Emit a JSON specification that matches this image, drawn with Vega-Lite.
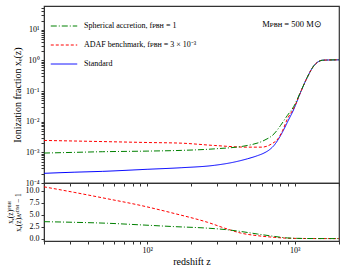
{
  "$schema": "https://vega.github.io/schema/vega-lite/v6.json",
  "padding": {"left": 5, "top": 5, "right": 6, "bottom": 2},
  "spacing": 0,
  "bounds": "flush",
  "config": {
    "font": "Liberation Serif",
    "view": {"stroke": "#333", "strokeWidth": 1.2},
    "axis": {"labelFont": "Liberation Serif", "titleFont": "Liberation Serif", "labelColor": "black", "titleColor": "black", "tickColor": "#333", "domainColor": "#333", "grid": false, "labelFontSize": 8, "titleFontSize": 10, "titleFontWeight": "normal", "tickSize": 3, "labelPadding": 2},
    "legend": {"labelFont": "Liberation Serif", "labelFontSize": 8, "labelColor": "black"}
  },
  "datasets": {
    "xe": [
      {"z": 20, "xe": 0.000207, "model": "Standard"},
      {"z": 32, "xe": 0.000225, "model": "Standard"},
      {"z": 50, "xe": 0.00024, "model": "Standard"},
      {"z": 100, "xe": 0.00028, "model": "Standard"},
      {"z": 170, "xe": 0.000315, "model": "Standard"},
      {"z": 285, "xe": 0.000377, "model": "Standard"},
      {"z": 380, "xe": 0.00047, "model": "Standard"},
      {"z": 479, "xe": 0.000617, "model": "Standard"},
      {"z": 560, "xe": 0.00078, "model": "Standard"},
      {"z": 620, "xe": 0.00095, "model": "Standard"},
      {"z": 680, "xe": 0.00125, "model": "Standard"},
      {"z": 725, "xe": 0.00168, "model": "Standard"},
      {"z": 765, "xe": 0.0024, "model": "Standard"},
      {"z": 804, "xe": 0.00356, "model": "Standard"},
      {"z": 850, "xe": 0.0059, "model": "Standard"},
      {"z": 893, "xe": 0.0096, "model": "Standard"},
      {"z": 989, "xe": 0.026, "model": "Standard"},
      {"z": 1098, "xe": 0.091, "model": "Standard"},
      {"z": 1218, "xe": 0.28, "model": "Standard"},
      {"z": 1350, "xe": 0.67, "model": "Standard"},
      {"z": 1459, "xe": 0.93, "model": "Standard"},
      {"z": 1550, "xe": 1.02, "model": "Standard"},
      {"z": 2000, "xe": 1.05, "model": "Standard"},
      {"z": 20, "xe": 0.00245, "model": "ADAF"},
      {"z": 32, "xe": 0.00235, "model": "ADAF"},
      {"z": 50, "xe": 0.00225, "model": "ADAF"},
      {"z": 100, "xe": 0.0021, "model": "ADAF"},
      {"z": 170, "xe": 0.002, "model": "ADAF"},
      {"z": 285, "xe": 0.00168, "model": "ADAF"},
      {"z": 479, "xe": 0.00148, "model": "ADAF"},
      {"z": 600, "xe": 0.00148, "model": "ADAF"},
      {"z": 700, "xe": 0.0019, "model": "ADAF"},
      {"z": 770, "xe": 0.00275, "model": "ADAF"},
      {"z": 830, "xe": 0.0052, "model": "ADAF"},
      {"z": 893, "xe": 0.0123, "model": "ADAF"},
      {"z": 989, "xe": 0.028, "model": "ADAF"},
      {"z": 1098, "xe": 0.092, "model": "ADAF"},
      {"z": 1218, "xe": 0.28, "model": "ADAF"},
      {"z": 1350, "xe": 0.67, "model": "ADAF"},
      {"z": 1459, "xe": 0.93, "model": "ADAF"},
      {"z": 1550, "xe": 1.02, "model": "ADAF"},
      {"z": 2000, "xe": 1.05, "model": "ADAF"},
      {"z": 20, "xe": 0.00095, "model": "Spherical"},
      {"z": 32, "xe": 0.001, "model": "Spherical"},
      {"z": 50, "xe": 0.00105, "model": "Spherical"},
      {"z": 100, "xe": 0.0011, "model": "Spherical"},
      {"z": 170, "xe": 0.00116, "model": "Spherical"},
      {"z": 285, "xe": 0.0013, "model": "Spherical"},
      {"z": 479, "xe": 0.00168, "model": "Spherical"},
      {"z": 620, "xe": 0.00245, "model": "Spherical"},
      {"z": 725, "xe": 0.004, "model": "Spherical"},
      {"z": 804, "xe": 0.0076, "model": "Spherical"},
      {"z": 893, "xe": 0.016, "model": "Spherical"},
      {"z": 989, "xe": 0.032, "model": "Spherical"},
      {"z": 1098, "xe": 0.095, "model": "Spherical"},
      {"z": 1218, "xe": 0.28, "model": "Spherical"},
      {"z": 1350, "xe": 0.67, "model": "Spherical"},
      {"z": 1459, "xe": 0.93, "model": "Spherical"},
      {"z": 1550, "xe": 1.02, "model": "Spherical"},
      {"z": 2000, "xe": 1.05, "model": "Spherical"}
    ],
    "ratio": [
      {"z": 20, "r": 10.8, "model": "ADAF"},
      {"z": 32, "r": 9.65, "model": "ADAF"},
      {"z": 54, "r": 8.3, "model": "ADAF"},
      {"z": 91, "r": 6.9, "model": "ADAF"},
      {"z": 153, "r": 5.24, "model": "ADAF"},
      {"z": 257, "r": 3.4, "model": "ADAF"},
      {"z": 351, "r": 1.98, "model": "ADAF"},
      {"z": 431, "r": 1.16, "model": "ADAF"},
      {"z": 560, "r": 0.61, "model": "ADAF"},
      {"z": 725, "r": 0.27, "model": "ADAF"},
      {"z": 939, "r": 0.06, "model": "ADAF"},
      {"z": 1218, "r": 0.02, "model": "ADAF"},
      {"z": 2000, "r": 0.0, "model": "ADAF"},
      {"z": 20, "r": 3.53, "model": "Spherical"},
      {"z": 32, "r": 3.4, "model": "Spherical"},
      {"z": 54, "r": 3.2, "model": "Spherical"},
      {"z": 91, "r": 2.86, "model": "Spherical"},
      {"z": 153, "r": 2.5, "model": "Spherical"},
      {"z": 257, "r": 2.18, "model": "Spherical"},
      {"z": 351, "r": 1.84, "model": "Spherical"},
      {"z": 431, "r": 1.49, "model": "Spherical"},
      {"z": 560, "r": 0.96, "model": "Spherical"},
      {"z": 725, "r": 0.47, "model": "Spherical"},
      {"z": 892, "r": 0.14, "model": "Spherical"},
      {"z": 1218, "r": 0.02, "model": "Spherical"},
      {"z": 2000, "r": 0.0, "model": "Spherical"}
    ],
    "note": [{"z": 960, "xe": 16, "t": "Mᴘʙʜ = 500 M⊙"}]
  },
  "vconcat": [
    {
      "width": 295,
      "height": 177,
      "layer": [
        {
          "data": {"name": "xe"},
          "mark": {"type": "line", "strokeWidth": 1, "clip": true, "interpolate": "monotone"},
          "encoding": {
            "x": {"field": "z", "type": "quantitative", "scale": {"type": "log", "domain": [20, 2000], "nice": false},
                  "axis": {"title": null, "labels": false, "values": [20,30,40,50,60,70,80,90,100,200,300,400,500,600,700,800,900,1000,2000]}},
            "y": {"field": "xe", "type": "quantitative", "scale": {"type": "log", "domain": [0.0001, 60], "nice": false},
                  "axis": {"title": "Ionization fraction xₑ(z)", "titlePadding": 3,
                           "values": [0.0001,0.0002,0.0003,0.0004,0.0005,0.0006,0.0007,0.0008,0.0009,0.001,0.002,0.003,0.004,0.005,0.006,0.007,0.008,0.009,0.01,0.02,0.03,0.04,0.05,0.06,0.07,0.08,0.09,0.1,0.2,0.3,0.4,0.5,0.6,0.7,0.8,0.9,1,2,3,4,5,6,7,8,9,10,20,30,40,50],
                           "labelExpr": "datum.value==0.0001?'10⁻⁴':datum.value==0.001?'10⁻³':datum.value==0.01?'10⁻²':datum.value==0.1?'10⁻¹':datum.value==1?'10⁰':datum.value==10?'10¹':''"}},
            "color": {"field": "model", "type": "nominal",
                      "scale": {"domain": ["Spherical", "ADAF", "Standard"], "range": ["#008000", "#ff0000", "#0000ff"]},
                      "legend": {"title": null, "orient": "top-left", "offset": 6, "padding": 0, "symbolType": "stroke", "symbolSize": 700, "symbolStrokeWidth": 1, "rowPadding": 1, "labelOffset": 6,
                                 "labelExpr": "datum.value=='Spherical'?'Spherical accretion, fᴘʙʜ = 1':datum.value=='ADAF'?'ADAF benchmark, fᴘʙʜ = 3 × 10⁻³':'Standard'",
                                 "encode": {"symbols": {"update": {"strokeDash": {"signal": "datum.value=='Spherical'?[6,2,1,2]:datum.value=='ADAF'?[3,2]:[1,0]"}}}}}},
            "strokeDash": {"field": "model", "type": "nominal",
                           "scale": {"domain": ["Spherical", "ADAF", "Standard"], "range": [[6, 2, 1, 2], [3, 2], [1, 0]]},
                           "legend": null}
          }
        },
        {
          "data": {"name": "note"},
          "mark": {"type": "text", "fontSize": 8.5, "font": "Liberation Serif", "color": "black"},
          "encoding": {
            "x": {"field": "z", "type": "quantitative"},
            "y": {"field": "xe", "type": "quantitative"},
            "text": {"field": "t"}
          }
        }
      ]
    },
    {
      "width": 295,
      "height": 58,
      "data": {"name": "ratio"},
      "mark": {"type": "line", "strokeWidth": 1, "clip": true, "interpolate": "monotone"},
      "encoding": {
        "x": {"field": "z", "type": "quantitative", "scale": {"type": "log", "domain": [20, 2000], "nice": false},
              "axis": {"title": "redshift z", "titlePadding": 2, "values": [20,30,40,50,60,70,80,90,100,200,300,400,500,600,700,800,900,1000,2000],
                       "labelExpr": "datum.value==100?'10²':datum.value==1000?'10³':''"}},
        "y": {"field": "r", "type": "quantitative", "scale": {"domain": [-0.5, 11.6], "nice": false, "zero": false},
              "axis": {"title": ["xₑ(z)ᴾᴮᴴ", "xₑ(z)ᴧᶜᴰᴹ − 1"], "titleFontSize": 7.5, "titleLineHeight": 8, "titlePadding": 3, "values": [0, 2.5, 5, 7.5, 10], "format": ".1f"}},
        "color": {"field": "model", "type": "nominal", "legend": null},
        "strokeDash": {"field": "model", "type": "nominal", "legend": null}
      }
    }
  ]
}
